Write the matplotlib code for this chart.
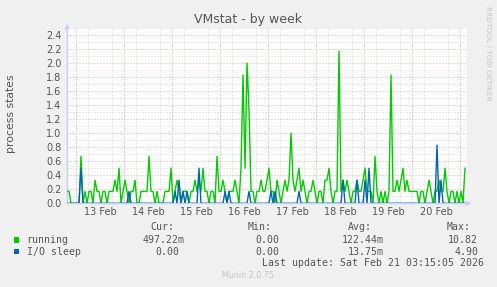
import numpy as np
import pandas as pd
import matplotlib
matplotlib.use("Agg")
import matplotlib.pyplot as plt
import matplotlib.dates as mdates
from matplotlib.patches import Rectangle

# ---- data (hourly samples, 12 Feb 19:15 -> 21 Feb 02:15) ----
start = pd.Timestamp("2026-02-12 19:15")
running = [
    0.17, 0.17, 0.00, 0.00, 0.00, 0.00, 0.00, 0.67, 0.00, 0.17,
    0.00, 0.17, 0.17, 0.00, 0.33, 0.17, 0.17, 0.00, 0.17, 0.17,
    0.00, 0.17, 0.17, 0.17, 0.33, 0.17, 0.50, 0.00, 0.17, 0.33,
    0.17, 0.00, 0.17, 0.17, 0.33, 0.00, 0.00, 0.17, 0.17, 0.17,
    0.17, 0.67, 0.17, 0.17, 0.00, 0.17, 0.00, 0.00, 0.00, 0.17,
    0.17, 0.17, 0.50, 0.00, 0.17, 0.33, 0.17, 0.00, 0.17, 0.17,
    0.17, 0.00, 0.17, 0.17, 0.33, 0.17, 0.33, 0.17, 0.50, 0.17,
    0.17, 0.00, 0.17, 0.17, 0.00, 0.67, 0.17, 0.17, 0.33, 0.17,
    0.00, 0.17, 0.17, 0.17, 0.33, 0.17, 0.00, 0.50, 1.83, 0.50,
    2.00, 1.33, 0.17, 0.17, 0.00, 0.17, 0.17, 0.33, 0.17, 0.17,
    0.33, 0.50, 0.17, 0.17, 0.00, 0.33, 0.17, 0.00, 0.17, 0.33,
    0.17, 0.33, 1.00, 0.33, 0.17, 0.33, 0.50, 0.17, 0.33, 0.17,
    0.00, 0.17, 0.17, 0.33, 0.17, 0.00, 0.17, 0.17, 0.00, 0.33,
    0.33, 0.50, 0.17, 0.00, 0.17, 0.17, 2.17, 0.17, 0.33, 0.17,
    0.33, 0.17, 0.00, 0.17, 0.17, 0.33, 0.17, 0.17, 0.33, 0.50,
    0.17, 0.17, 0.17, 0.00, 0.67, 0.17, 0.00, 0.17, 0.00, 0.17,
    0.00, 0.17, 1.83, 0.17, 0.17, 0.33, 0.17, 0.33, 0.50, 0.17,
    0.33, 0.17, 0.17, 0.17, 0.17, 0.17, 0.00, 0.17, 0.17, 0.00,
    0.17, 0.33, 0.17, 0.00, 0.17, 0.17, 0.33, 0.17, 0.17, 0.50,
    0.17, 0.00, 0.17, 0.17, 0.00, 0.17, 0.00, 0.17, 0.00, 0.50,
]
io_sleep = [
    0.00, 0.00, 0.00, 0.00, 0.00, 0.00, 0.00, 0.50, 0.00, 0.00,
    0.00, 0.00, 0.00, 0.00, 0.00, 0.00, 0.00, 0.00, 0.00, 0.00,
    0.00, 0.00, 0.00, 0.00, 0.00, 0.00, 0.00, 0.00, 0.00, 0.00,
    0.00, 0.17, 0.00, 0.00, 0.00, 0.00, 0.00, 0.00, 0.00, 0.00,
    0.00, 0.00, 0.00, 0.00, 0.00, 0.00, 0.00, 0.00, 0.00, 0.00,
    0.00, 0.00, 0.00, 0.00, 0.17, 0.00, 0.33, 0.00, 0.17, 0.00,
    0.17, 0.00, 0.00, 0.00, 0.00, 0.00, 0.50, 0.00, 0.00, 0.00,
    0.00, 0.00, 0.00, 0.00, 0.00, 0.00, 0.00, 0.00, 0.00, 0.17,
    0.00, 0.17, 0.00, 0.00, 0.00, 0.00, 0.00, 0.00, 0.00, 0.00,
    0.00, 0.17, 0.00, 0.00, 0.00, 0.00, 0.00, 0.00, 0.00, 0.00,
    0.00, 0.00, 0.17, 0.00, 0.17, 0.00, 0.00, 0.00, 0.00, 0.00,
    0.00, 0.00, 0.00, 0.00, 0.00, 0.00, 0.17, 0.00, 0.00, 0.00,
    0.00, 0.00, 0.00, 0.00, 0.00, 0.00, 0.00, 0.00, 0.00, 0.00,
    0.00, 0.00, 0.00, 0.00, 0.00, 0.00, 0.00, 0.00, 0.33, 0.00,
    0.00, 0.00, 0.00, 0.00, 0.00, 0.33, 0.00, 0.00, 0.00, 0.33,
    0.00, 0.50, 0.00, 0.00, 0.00, 0.00, 0.00, 0.00, 0.00, 0.00,
    0.00, 0.00, 0.00, 0.00, 0.00, 0.00, 0.00, 0.00, 0.00, 0.00,
    0.00, 0.00, 0.00, 0.00, 0.00, 0.00, 0.00, 0.00, 0.00, 0.00,
    0.00, 0.00, 0.00, 0.00, 0.00, 0.83, 0.00, 0.33, 0.00, 0.00,
    0.00, 0.00, 0.00, 0.00, 0.00, 0.00, 0.00, 0.00, 0.00, 0.00,
]
series_names = ["running", "I/O sleep"]
series_colors = ["#00CC00", "#0066B3"]
cur_vals = ["497.22m", "0.00"]
min_vals = ["0.00", "0.00"]
avg_vals = ["122.44m", "13.75m"]
max_vals = ["10.82", "4.90"]
title = "VMstat - by week"
ylabel = "process states"
last_update = "Last update: Sat Feb 21 03:15:05 2026"

times = pd.date_range(start, periods=len(running), freq="1h")
t_end = start + pd.Timedelta(hours=200)

W, H = 497, 287
fig = plt.figure(figsize=(W / 100, H / 100), dpi=100, facecolor="#F0F0F0")
def fx(px): return px / W
def fy(py): return 1 - py / H

ax = fig.add_axes([fx(67), fy(203.3), fx(467) - fx(67), fy(28) - fy(203.3)])
ax.set_facecolor("white")
ax.set_xlim(mdates.date2num(start), mdates.date2num(t_end))
ax.set_ylim(0, 2.5)

font_col = "#555555"
minor_col = "#D8D8D8"
major_col = "#E0A8A8"
dots = (0, (1, 2))

# grid
ax.yaxis.set_major_locator(matplotlib.ticker.MultipleLocator(0.2))
ax.yaxis.set_minor_locator(matplotlib.ticker.MultipleLocator(0.1))
ax.yaxis.grid(True, which="minor", color=minor_col, linestyle=dots, linewidth=0.72)
ax.yaxis.grid(True, which="major", color=major_col, linestyle=dots, linewidth=0.72)
ax.xaxis.set_minor_locator(mdates.HourLocator(byhour=[0, 6, 12, 18]))
ax.xaxis.grid(True, which="minor", color=minor_col, linestyle=dots, linewidth=0.72)
ax.xaxis.set_major_locator(mdates.HourLocator(byhour=[12]))
ax.xaxis.set_major_formatter(mdates.DateFormatter("%d %b"))
for d in pd.date_range("2026-02-13", "2026-02-21", freq="1D"):
    ax.axvline(d, color=major_col, linestyle=dots, linewidth=0.72, zorder=0.5)
ax.set_axisbelow(True)

ax.tick_params(axis="both", which="both", length=0, labelsize=7, labelcolor=font_col, pad=3)
ax.tick_params(axis="y", pad=4)
ax.set_yticks(np.arange(0, 2.41, 0.2))
ax.set_yticklabels([f"{v:.1f}" for v in np.arange(0, 2.41, 0.2)])

for s in ["top", "right"]:
    ax.spines[s].set_visible(False)
axis_col = "#C8CEF4"
ax.spines["left"].set_color(axis_col)
ax.spines["bottom"].set_color(axis_col)
ax.spines["left"].set_linewidth(1)
ax.spines["bottom"].set_linewidth(1)

# arrows
ax.annotate("", xy=(0, 1.04), xytext=(0, 0.99), xycoords="axes fraction",
            arrowprops=dict(arrowstyle="-|>", color=axis_col, lw=0.8, mutation_scale=7),
            annotation_clip=False)
ax.annotate("", xy=(1.018, 0), xytext=(0.99, 0), xycoords="axes fraction",
            arrowprops=dict(arrowstyle="-|>", color=axis_col, lw=0.8, mutation_scale=7),
            annotation_clip=False)

ax.plot(times, running, color=series_colors[0], linewidth=1.0, zorder=3)
ax.plot(times, io_sleep, color=series_colors[1], linewidth=1.0, zorder=4)

# texts
fig.text(fx(248), fy(19), title, ha="center", va="center", fontsize=9, color=font_col)
fig.text(fx(11), fy(114), ylabel, ha="center", va="center", rotation=90, fontsize=7.8, color=font_col)
fig.text(fx(488), fy(53), "RRDTOOL / TOBI OETIKER", ha="center", va="center", rotation=270,
         fontsize=5.3, color="#C4C4C4")
fig.text(fx(248), fy(276), "Munin 2.0.75", ha="center", va="center", fontsize=5.8, color="#C4C4C4")

mono = dict(family="DejaVu Sans Mono", fontsize=7.1, color=font_col, va="center")
for lbl, x in zip(["Cur:", "Min:", "Avg:", "Max:"], [150, 248, 348, 447]):
    fig.text(fx(x), fy(227), lbl, ha="left", **mono)
rows_y = [240, 251.7]
cur_x = [143, 155.7]
min_x = [255, 255]
avg_x = [342, 348]
max_x = [448, 455]
for i in range(2):
    y = rows_y[i]
    fig.patches.append(Rectangle((fx(14), fy(y + 2.7)), fx(5.3), fy(0) - fy(5.4),
                                 transform=fig.transFigure, facecolor=series_colors[i],
                                 edgecolor="none", figure=fig))
    fig.text(fx(26.7), fy(y), series_names[i], ha="left", **mono)
    fig.text(fx(cur_x[i]), fy(y), cur_vals[i], ha="left", **mono)
    fig.text(fx(min_x[i]), fy(y), min_vals[i], ha="left", **mono)
    fig.text(fx(avg_x[i]), fy(y), avg_vals[i], ha="left", **mono)
    fig.text(fx(max_x[i]), fy(y), max_vals[i], ha="left", **mono)
fig.text(fx(261.7), fy(263.3), last_update, ha="left", **mono)

fig.savefig("out.png", dpi=100, facecolor=fig.get_facecolor())
